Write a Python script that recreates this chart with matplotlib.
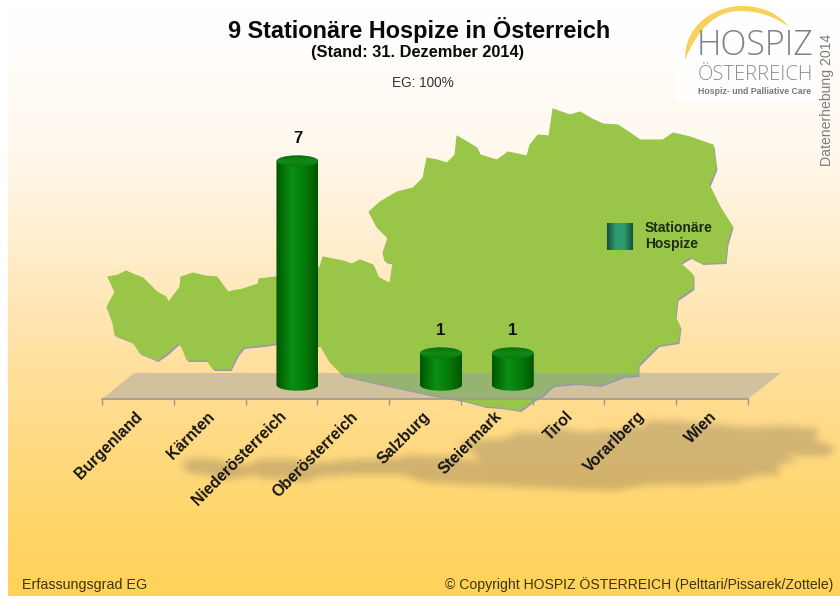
import numpy as np
import matplotlib
matplotlib.use("Agg")
import matplotlib.pyplot as plt
from matplotlib.colors import LinearSegmentedColormap
from matplotlib.patches import Polygon, Ellipse, Rectangle, PathPatch
from matplotlib.path import Path
from matplotlib.transforms import ScaledTranslation

plt.rcParams['font.family'] = ['Liberation Sans', 'DejaVu Sans']

# ---- data ----
categories = ["Burgenland", "Kärnten", "Niederösterreich", "Oberösterreich", "Salzburg",
              "Steiermark", "Tirol", "Vorarlberg", "Wien"]
values = [0, 0, 7, 0, 1, 1, 0, 0, 0]
title = "9 Stationäre Hospize in Österreich"
subtitle = "(Stand: 31. Dezember 2014)"
coverage = "EG: 100%"
legend_lines = ["Stationäre", "Hospize"]

# decorative map outline (picture pixels)
map_outline = [(108,277),(118,275),(126,271),(135,275),(143,278),(150,285),(157,292),(166,297),(168,303),
 (174,295),(180,287),(181,277),(193,273),(205,276),(217,277),(222,284),(228,292),(243,289),(258,284),
 (259,279),(275,277),(300,272),(320,267),(323,257),(333,259),(343,261),(352,264),(360,260),(373,265),
 (378,277),(385,281),(390,283),(393,263),(385,261),(383,253),(388,238),(377,227),(369,212),(380,202),
 (397,192),(413,188),(423,178),(427,158),(437,160),(447,163),(455,155),(457,136),(467,142),(477,148),
 (480,155),(497,160),(508,152),(527,156),(530,145),(538,135),(549,136),(553,109),(570,115),(580,112),
 (592,119),(603,124),(618,125),(630,133),(640,140),(663,140),(673,133),(690,137),(713,145),(716,168),
 (709,185),(720,207),(732,226),(727,243),(725,262),(702,263),(690,257),(680,263),(693,275),(693,288),
 (677,299),(675,317),(680,327),(678,342),(658,345),(638,365),(638,375),(623,376),(600,385),(577,383),
 (553,385),(542,395),(533,400),(520,410),(500,407),(485,406),(463,400),(433,395),(420,392),(377,383),
 (343,375),(330,362),(320,345),(277,343),(263,345),(243,347),(237,355),(230,369),(213,369),(207,360),
 (187,360),(182,347),(178,343),(167,353),(157,360),(140,353),(133,342),(115,335),(113,323),(107,307),(115,292)]

W, H = 840, 596
fig = plt.figure(figsize=(W/100, H/100), dpi=100, facecolor='white')
bg = fig.add_axes([0, 0, 1, 1], zorder=0)
bg.set_xlim(0, W); bg.set_ylim(H, 0); bg.axis('off')

# background gradient
stop_y = [0, 60, 150, 250, 370, 480, 596]
stop_c = ['#FFFFFF', '#FFFDFA', '#FFF8EC', '#FFEDCB', '#FFDF9B', '#FFD877', '#FFD258']
cm_bg = LinearSegmentedColormap.from_list('bg', [(y/H, c) for y, c in zip(stop_y, stop_c)])
bg.imshow(np.linspace(0, 1, 596).reshape(-1, 1), cmap=cm_bg, extent=[8, W, H, 0], aspect='auto', zorder=0)

# blurred ground shadow of the map
m = np.array(map_outline, float)
sh = np.column_stack([180 + (m[:, 0]-107)*1.05, 420 + (m[:, 1]-109)*0.235])
gx, gy = np.meshgrid(np.arange(W)+0.5, np.arange(H)+0.5)
mask = Path(sh).contains_points(np.column_stack([gx.ravel(), gy.ravel()])).reshape(H, W).astype(float)
kernel = np.ones(7)/7
for _ in range(3):
    mask = np.apply_along_axis(lambda r: np.convolve(r, kernel, mode='same'), 0, mask)
    mask = np.apply_along_axis(lambda r: np.convolve(r, kernel, mode='same'), 1, mask)
rgba = np.zeros((H, W, 4))
rgba[..., :3] = matplotlib.colors.to_rgb('#7A6A58')
rgba[..., 3] = mask*0.34
bg.imshow(rgba, extent=[0, W, H, 0], aspect='auto', zorder=1)
bg.set_xlim(0, W); bg.set_ylim(H, 0)

# map with drop edge
bg.add_patch(Polygon(m + [1.5, 2.0], closed=True, fc='#9A9AAA', ec='none', zorder=2))
bg.add_patch(Polygon(m, closed=True, fc='#99C649', ec='#99C649', lw=0.8, zorder=3, joinstyle='round'))

# floor
bg.add_patch(Polygon([(102, 399), (134, 373), (781, 373), (748, 399)], closed=True,
                     fc='#949BAA', ec='none', alpha=0.42, zorder=4))

# chart axes: one unit = 32 px, zero at pixel 385
base_px, bottom_px, top_px, unit_px = 385, 399, 120, 32
left_px, right_px = 102, 748
ax = fig.add_axes([left_px/W, 1-bottom_px/H, (right_px-left_px)/W, (bottom_px-top_px)/H], zorder=2)
ax.patch.set_alpha(0)
ylim = (-(bottom_px-base_px)/unit_px, (base_px-top_px)/unit_px)
xlim = (-0.5, len(categories)-0.5)

bar_w = 0.585
cap = 5.7/unit_px
depth = 16/((right_px-left_px)/len(categories))   # bars stand back on the floor
cm_body = LinearSegmentedColormap.from_list('body', [(0, '#005400'), (0.12, '#006A04'), (0.38, '#0B8E14'),
                                                     (0.7, '#067A0A'), (1, '#005400')])
cm_top = LinearSegmentedColormap.from_list('top', [(0, '#0A6E0A'), (0.5, '#118A16'), (1, '#0A7A0C')])
t = np.linspace(0, 1, 256).reshape(1, -1)
for i, v in enumerate(values):
    if v <= 0:
        continue
    c = i + depth
    a = np.linspace(np.pi, 2*np.pi, 40)
    lower = np.column_stack([c + bar_w/2*np.cos(a), cap*np.sin(a)])
    verts = np.vstack([lower, [[c+bar_w/2, v], [c-bar_w/2, v]]])
    body = Polygon(verts, closed=True, fc='none', ec='none', zorder=3)
    ax.add_patch(body)
    im = ax.imshow(t, cmap=cm_body, extent=[c-bar_w/2, c+bar_w/2, -cap, v], aspect='auto', zorder=3)
    im.set_clip_path(body)
    top = Ellipse((c, v), bar_w, 2*cap, fc='none', ec='none', zorder=4)
    ax.add_patch(top)
    im2 = ax.imshow(t.T, cmap=cm_top, extent=[c-bar_w/2, c+bar_w/2, v-cap, v+cap], aspect='auto', zorder=4)
    im2.set_clip_path(top)
    ax.text(c, v + 0.7, str(v), ha='center', va='center', fontsize=12, fontweight='bold',
            color='#111111', zorder=5)

ax.set_xlim(*xlim); ax.set_ylim(*ylim)
for s in ['top', 'left', 'right']:
    ax.spines[s].set_visible(False)
ax.spines['bottom'].set_color('#9E988C'); ax.spines['bottom'].set_linewidth(1.2)
ax.set_yticks([])
ax.set_xticks(np.arange(len(categories)+1)-0.5)
ax.set_xticklabels([])
ax.tick_params(axis='x', which='major', length=4, width=1, color='#9E988C')
ax.set_xticks(np.arange(len(categories)), minor=True)
ax.set_xticklabels(categories, minor=True, rotation=45, ha='right', va='top', rotation_mode='anchor',
                   fontsize=11.4, fontweight='bold', color='#151515')
ax.tick_params(axis='x', which='minor', length=0, pad=7)
shift = ScaledTranslation(-3/100, 0, fig.dpi_scale_trans)
for lab in ax.get_xticklabels(minor=True):
    lab.set_transform(lab.get_transform() + shift)

# overlay axes for texts and logo
ov = fig.add_axes([0, 0, 1, 1], zorder=3)
ov.set_xlim(0, W); ov.set_ylim(H, 0); ov.axis('off'); ov.patch.set_alpha(0)
ov.text(419, 30, title, ha='center', va='center', fontsize=16.9, fontweight='bold', color='#0A0A0A')
ov.text(418, 52, subtitle, ha='center', va='center', fontsize=11.8, fontweight='bold', color='#0A0A0A')
ov.text(423, 83, coverage, ha='center', va='center', fontsize=9.8, color='#333333')
ov.text(22, 585, "Erfassungsgrad EG", ha='left', va='center', fontsize=10.3, color='#3E3410')
ov.text(833, 585, "© Copyright HOSPIZ ÖSTERREICH (Pelttari/Pissarek/Zottele)", ha='right', va='center',
        fontsize=10.1, color='#3E3410')

# legend
cm_leg = LinearSegmentedColormap.from_list('leg', ['#14503C', '#2F9A70', '#2F9A70', '#14503C'])
ov.imshow(t, cmap=cm_leg, extent=[607, 633, 250, 223], aspect='auto', zorder=5)
ov.set_xlim(0, W); ov.set_ylim(H, 0)
ov.text(645, 228, legend_lines[0], ha='left', va='center', fontsize=10, fontweight='bold', color='#1C2A14')
ov.text(645, 244, legend_lines[1], ha='left', va='center', fontsize=10, fontweight='bold', color='#1C2A14')

# logo
ov.add_patch(Rectangle((676, 0), 140, 102, fc='white', ec='none', alpha=0.85, zorder=5))
arc = Path([(685, 60), (684, 25), (715, 5), (745, 6), (765, 7), (780, 15), (789, 27),
            (775, 17), (760, 11), (740, 11), (715, 11), (697, 30), (685, 60), (685, 60)],
           [Path.MOVETO, Path.CURVE4, Path.CURVE4, Path.CURVE4, Path.CURVE4, Path.CURVE4, Path.CURVE4,
            Path.CURVE4, Path.CURVE4, Path.CURVE4, Path.CURVE4, Path.CURVE4, Path.CURVE4, Path.CLOSEPOLY])
ov.add_patch(PathPatch(arc, fc='#F8D15C', ec='none', zorder=6))
ov.text(755, 46, "HOSPIZ", ha='center', va='center', fontsize=24.5, family='Open Sans', fontweight='light',
        color='#7E8486', zorder=7)
ov.text(755, 75, "ÖSTERREICH", ha='center', va='center', fontsize=14.6, family='Open Sans', fontweight='light',
        color='#8A9092', zorder=7)
ov.text(755, 91, "Hospiz- und Palliative Care", ha='center', va='center', fontsize=6.3, fontweight='bold',
        color='#777777', zorder=7)
ov.text(827, 100, "Datenerhebung 2014", ha='center', va='center', rotation=90, fontsize=10.1, color='#7C7C7C', zorder=7)

fig.savefig('out.png', dpi=100)
